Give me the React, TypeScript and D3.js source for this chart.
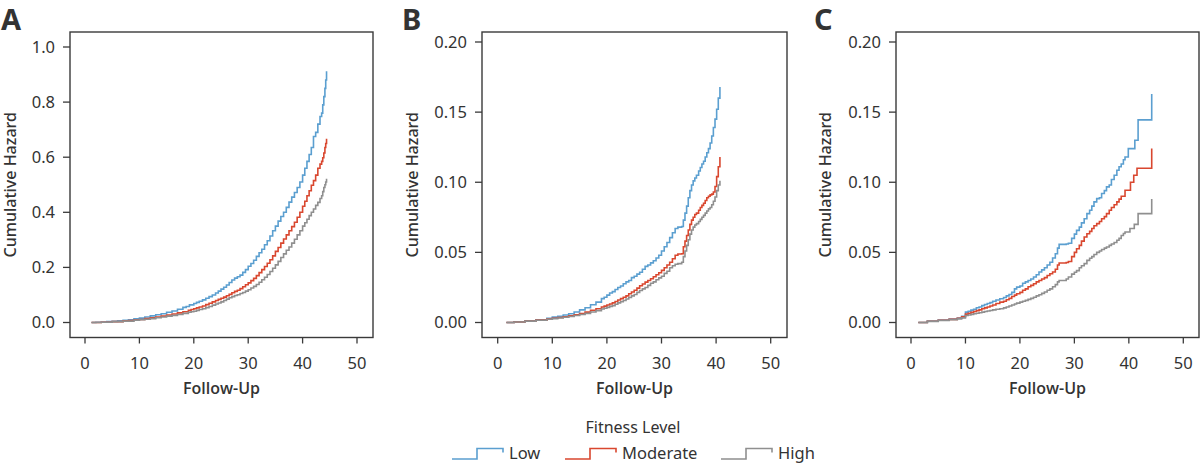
import React from "react";
import * as d3 from "d3";

type Pt = [number, number];

// ---------- Data (time, cumulative hazard) ----------
const aLow: Pt[] = [
  [1.2, 0], [2, 0.001], [3, 0.002], [4, 0.003], [5, 0.004], [6, 0.006], [7, 0.008], [8, 0.01],
  [9, 0.013], [10, 0.016], [11, 0.02], [12, 0.024], [13, 0.028], [14, 0.032], [15, 0.037],
  [16, 0.042], [17, 0.048], [18, 0.055], [18.6, 0.058], [19.2, 0.064], [20, 0.069], [20.5, 0.073],
  [21, 0.077], [21.6, 0.082], [22.2, 0.088], [22.8, 0.094], [23.4, 0.1], [24, 0.107], [24.5, 0.114],
  [25, 0.121], [25.5, 0.128], [26, 0.136], [26.5, 0.145], [27, 0.154], [27.5, 0.161], [28, 0.166],
  [28.5, 0.172], [29, 0.182], [29.5, 0.192], [30, 0.204], [30.5, 0.214], [31, 0.226], [31.5, 0.24],
  [32, 0.253], [32.5, 0.266], [33, 0.282], [33.5, 0.297], [34, 0.314], [34.5, 0.333], [35, 0.35],
  [35.5, 0.368], [36, 0.385], [36.5, 0.4], [37, 0.418], [37.5, 0.437], [38, 0.455], [38.5, 0.472],
  [39, 0.49], [39.5, 0.51], [40, 0.535], [40.4, 0.56], [40.8, 0.585], [41.2, 0.61], [41.6, 0.635],
  [42, 0.675], [42.4, 0.69], [42.8, 0.72], [43.2, 0.748], [43.5, 0.76], [43.7, 0.79], [43.9, 0.82],
  [44.1, 0.85], [44.25, 0.88], [44.4, 0.912],
];
const aModerate: Pt[] = [
  [1.2, 0], [3, 0.001], [5, 0.003], [7, 0.006], [8, 0.007], [9, 0.009], [10, 0.011], [11, 0.014],
  [12, 0.017], [13, 0.02], [14, 0.023], [15, 0.027], [16, 0.031], [17, 0.035], [18, 0.039],
  [19, 0.044], [19.5, 0.047], [20, 0.05], [20.5, 0.053], [21, 0.056], [21.6, 0.06], [22.2, 0.065],
  [22.8, 0.07], [23.4, 0.075], [24, 0.08], [24.5, 0.084], [25, 0.088], [25.5, 0.092], [26, 0.097],
  [26.5, 0.102], [27, 0.108], [27.5, 0.113], [28, 0.117], [28.5, 0.123], [29, 0.13], [29.5, 0.137],
  [30, 0.144], [30.5, 0.152], [31, 0.16], [31.5, 0.17], [32, 0.181], [32.5, 0.192], [33, 0.203],
  [33.5, 0.215], [34, 0.228], [34.5, 0.242], [35, 0.258], [35.5, 0.272], [36, 0.288], [36.5, 0.303],
  [37, 0.318], [37.5, 0.333], [38, 0.348], [38.5, 0.364], [39, 0.382], [39.5, 0.4], [40, 0.422],
  [40.4, 0.44], [40.8, 0.46], [41.2, 0.478], [41.6, 0.498], [42, 0.515], [42.4, 0.535],
  [42.8, 0.56], [43.2, 0.575], [43.5, 0.585], [43.7, 0.598], [43.9, 0.615], [44.1, 0.635],
  [44.25, 0.65], [44.4, 0.667],
];
const aHigh: Pt[] = [
  [1.2, 0], [3, 0.001], [5, 0.003], [7, 0.005], [9, 0.008], [10, 0.01], [11, 0.012], [12, 0.014],
  [13, 0.017], [14, 0.02], [15, 0.023], [16, 0.026], [17, 0.029], [18, 0.033], [19, 0.037],
  [19.5, 0.039], [20, 0.041], [20.5, 0.044], [21, 0.047], [21.6, 0.05], [22.2, 0.054],
  [22.8, 0.058], [23.4, 0.063], [24, 0.067], [24.5, 0.071], [25, 0.075], [25.5, 0.08], [26, 0.085],
  [26.5, 0.09], [27, 0.094], [27.5, 0.098], [28, 0.101], [28.5, 0.105], [29, 0.109], [29.5, 0.114],
  [30, 0.119], [30.5, 0.125], [31, 0.131], [31.5, 0.138], [32, 0.146], [32.5, 0.155], [33, 0.164],
  [33.5, 0.174], [34, 0.185], [34.5, 0.197], [35, 0.209], [35.5, 0.222], [36, 0.236],
  [36.5, 0.249], [37, 0.262], [37.5, 0.274], [38, 0.288], [38.5, 0.302], [39, 0.318],
  [39.5, 0.333], [40, 0.35], [40.4, 0.362], [40.8, 0.375], [41.2, 0.388], [41.6, 0.4], [42, 0.412],
  [42.4, 0.425], [42.8, 0.436], [43.2, 0.45], [43.5, 0.46], [43.7, 0.475], [43.9, 0.49],
  [44.1, 0.5], [44.25, 0.51], [44.4, 0.522],
];

const bLow: Pt[] = [
  [1.6, 0], [3, 0.0005], [5, 0.0012], [7, 0.002], [9, 0.003], [10, 0.0038], [11, 0.0045],
  [12, 0.0053], [13, 0.0062], [14, 0.0075], [15, 0.009], [16, 0.0105], [17, 0.0127], [18, 0.0145],
  [19, 0.017], [19.5, 0.018], [20, 0.0195], [20.5, 0.021], [21, 0.022], [21.5, 0.0235], [22, 0.025],
  [22.5, 0.026], [23, 0.0276], [23.5, 0.029], [24, 0.03], [24.5, 0.032], [25, 0.033], [25.5, 0.0345],
  [26, 0.0358], [26.5, 0.038], [27, 0.04], [27.5, 0.041], [28, 0.0425], [28.5, 0.044], [29, 0.046],
  [29.5, 0.048], [30, 0.051], [30.5, 0.054], [31, 0.057], [31.5, 0.0605], [32, 0.064],
  [32.5, 0.067], [33, 0.068], [33.7, 0.0685], [34, 0.073], [34.3, 0.078], [34.6, 0.083],
  [34.9, 0.089], [35.2, 0.094], [35.5, 0.098], [35.8, 0.101], [36.1, 0.103], [36.4, 0.105],
  [36.8, 0.108], [37.1, 0.1105], [37.4, 0.113], [37.7, 0.115], [38, 0.118], [38.3, 0.121],
  [38.6, 0.124], [38.9, 0.128], [39.2, 0.133], [39.5, 0.139], [39.8, 0.145], [40.1, 0.152],
  [40.4, 0.16], [40.7, 0.168],
];
const bModerate: Pt[] = [
  [1.6, 0], [3, 0.0004], [5, 0.001], [7, 0.0017], [9, 0.0025], [10, 0.003], [11, 0.0036],
  [12, 0.004], [13, 0.0047], [14, 0.0055], [15, 0.0063], [16, 0.0074], [17, 0.0087], [18, 0.0098],
  [19, 0.011], [19.5, 0.0117], [20, 0.0125], [20.5, 0.0132], [21, 0.014], [21.5, 0.015],
  [22, 0.016], [22.5, 0.017], [23, 0.018], [23.5, 0.019], [24, 0.0205], [24.5, 0.0218],
  [25, 0.023], [25.5, 0.0245], [26, 0.0262], [26.5, 0.0275], [27, 0.0288], [27.5, 0.03],
  [28, 0.0312], [28.5, 0.0326], [29, 0.034], [29.5, 0.0355], [30, 0.0372], [30.5, 0.039],
  [31, 0.041], [31.5, 0.043], [32, 0.0455], [32.5, 0.048], [33, 0.0488], [33.7, 0.049], [34, 0.054],
  [34.3, 0.058], [34.6, 0.062], [34.9, 0.066], [35.2, 0.07], [35.5, 0.073], [35.8, 0.075],
  [36.1, 0.077], [36.4, 0.078], [36.8, 0.08], [37.1, 0.082], [37.4, 0.0835], [37.7, 0.085],
  [38, 0.087], [38.3, 0.089], [38.6, 0.09], [38.9, 0.091], [39.2, 0.0915], [39.5, 0.093],
  [39.8, 0.097], [40.1, 0.104], [40.4, 0.111], [40.7, 0.118],
];
const bHigh: Pt[] = [
  [1.6, 0], [3, 0.0004], [5, 0.001], [7, 0.0016], [9, 0.0023], [10, 0.0027], [11, 0.0032],
  [12, 0.0037], [13, 0.0043], [14, 0.005], [15, 0.0057], [16, 0.0065], [17, 0.0075], [18, 0.0085],
  [19, 0.0096], [19.5, 0.0102], [20, 0.0108], [20.5, 0.0115], [21, 0.012], [21.5, 0.013],
  [22, 0.014], [22.5, 0.0148], [23, 0.0157], [23.5, 0.0168], [24, 0.0178], [24.5, 0.019],
  [25, 0.02], [25.5, 0.0215], [26, 0.0228], [26.5, 0.024], [27, 0.025], [27.5, 0.0265],
  [28, 0.028], [28.5, 0.029], [29, 0.0305], [29.5, 0.0318], [30, 0.033], [30.5, 0.035],
  [31, 0.0365], [31.5, 0.039], [32, 0.0405], [32.5, 0.0415], [33, 0.042], [33.7, 0.043],
  [34, 0.047], [34.3, 0.051], [34.6, 0.055], [34.9, 0.059], [35.2, 0.063], [35.5, 0.066],
  [35.8, 0.068], [36.1, 0.0695], [36.4, 0.0705], [36.8, 0.072], [37.1, 0.0735], [37.4, 0.075],
  [37.7, 0.0764], [38, 0.078], [38.3, 0.0795], [38.6, 0.081], [38.9, 0.082], [39.2, 0.084],
  [39.5, 0.0865], [39.8, 0.0895], [40.1, 0.094], [40.4, 0.098], [40.7, 0.101],
];

const cLow: Pt[] = [
  [1.35, 0], [3, 0.001], [5, 0.0018], [7, 0.0025], [8.5, 0.0032], [9.3, 0.0045], [10, 0.0074],
  [10.5, 0.008], [11, 0.0088], [11.5, 0.0095], [12, 0.0105], [12.5, 0.011], [13, 0.012],
  [13.5, 0.0128], [14, 0.0135], [14.5, 0.0142], [15, 0.0152], [15.6, 0.016], [16.3, 0.0169],
  [17, 0.0178], [17.5, 0.019], [18, 0.02], [18.5, 0.0215], [19, 0.024], [19.4, 0.0252], [20, 0.026],
  [20.5, 0.028], [21, 0.029], [21.5, 0.03], [22, 0.031], [22.5, 0.0324], [23, 0.034], [23.5, 0.036],
  [24, 0.0375], [24.5, 0.039], [25, 0.041], [25.5, 0.043], [26, 0.046], [26.5, 0.049],
  [26.9, 0.053], [27.2, 0.0557], [28.5, 0.056], [28.9, 0.0565], [29.5, 0.06], [30, 0.063],
  [30.4, 0.0657], [30.9, 0.068], [31.3, 0.071], [31.8, 0.074], [32.3, 0.0776], [32.8, 0.08],
  [33.2, 0.083], [33.6, 0.086], [34.1, 0.0883], [34.6, 0.089], [35, 0.092], [35.5, 0.094],
  [35.9, 0.0967], [36.4, 0.098], [36.8, 0.102], [37.3, 0.105], [37.8, 0.1086], [38.2, 0.111],
  [38.6, 0.113], [39, 0.116], [39.3, 0.118], [39.9, 0.124], [41.1, 0.13], [41.7, 0.1445],
  [44.2, 0.163],
];
const cModerate: Pt[] = [
  [1.35, 0], [3, 0.0009], [5, 0.0016], [7, 0.0022], [8.5, 0.003], [9.3, 0.004], [10, 0.006],
  [10.5, 0.0066], [11, 0.0072], [11.5, 0.0078], [12, 0.0085], [12.5, 0.009], [13, 0.0098],
  [13.5, 0.0104], [14, 0.011], [14.5, 0.0118], [15, 0.0125], [15.6, 0.0135], [16.3, 0.0145],
  [17, 0.0152], [17.5, 0.0162], [18, 0.0172], [18.5, 0.0185], [19, 0.0195], [19.4, 0.0205],
  [20, 0.0215], [20.5, 0.023], [21, 0.024], [21.5, 0.0255], [22, 0.0265], [22.5, 0.0276],
  [23, 0.029], [23.5, 0.03], [24, 0.031], [24.5, 0.032], [25, 0.0335], [25.5, 0.0348], [26, 0.036],
  [26.5, 0.038], [26.9, 0.041], [27.2, 0.0424], [28.5, 0.0428], [28.9, 0.0435], [29.5, 0.047],
  [30, 0.05], [30.4, 0.0526], [30.9, 0.055], [31.3, 0.058], [31.8, 0.061], [32.3, 0.0633],
  [32.8, 0.065], [33.2, 0.067], [33.6, 0.069], [34.1, 0.0705], [34.6, 0.072], [35, 0.074],
  [35.5, 0.0755], [35.9, 0.0776], [36.4, 0.08], [36.8, 0.082], [37.3, 0.084], [37.8, 0.086],
  [38.2, 0.088], [38.6, 0.09], [39.3, 0.0943], [40.3, 0.1], [40.9, 0.105], [41.5, 0.11],
  [44.2, 0.124],
];
const cHigh: Pt[] = [
  [1.35, 0], [3, 0.0008], [5, 0.0014], [7, 0.002], [8.5, 0.0026], [9.3, 0.0033], [10, 0.005],
  [10.5, 0.0054], [11, 0.0058], [11.5, 0.0062], [12, 0.0066], [12.5, 0.007], [13, 0.0074],
  [13.5, 0.0078], [14, 0.0082], [14.5, 0.0086], [15, 0.009], [15.6, 0.0094], [16.3, 0.0098],
  [17, 0.0104], [17.5, 0.011], [18, 0.0118], [18.5, 0.0125], [19, 0.0132], [19.4, 0.0138],
  [20, 0.0145], [20.5, 0.0152], [21, 0.0158], [21.5, 0.0165], [22, 0.0172], [22.5, 0.018],
  [23, 0.019], [23.5, 0.0198], [24, 0.0208], [24.5, 0.0218], [25, 0.023], [25.5, 0.024],
  [26, 0.0255], [26.5, 0.027], [26.9, 0.029], [27.2, 0.03], [28.5, 0.031], [28.9, 0.0324],
  [29.5, 0.0345], [30, 0.0358], [30.4, 0.037], [30.9, 0.039], [31.3, 0.0405], [31.8, 0.042],
  [32.3, 0.0443], [32.8, 0.0458], [33.2, 0.047], [33.6, 0.0485], [34.1, 0.05], [34.6, 0.051],
  [35, 0.052], [35.5, 0.053], [35.9, 0.0538], [36.4, 0.055], [36.8, 0.056], [37.3, 0.057],
  [37.8, 0.0586], [38.2, 0.06], [38.6, 0.062], [39, 0.0635], [39.3, 0.0645], [40.2, 0.067],
  [41, 0.07], [41.7, 0.0776], [44.2, 0.088],
];

const xTicks = [0, 10, 20, 30, 40, 50];
const yTicksA = [0, 0.2, 0.4, 0.6, 0.8, 1.0];
const yTicksBC = [0, 0.05, 0.1, 0.15, 0.2];
const levels = ["Low", "Moderate", "High"];
const colors = ["#5b9fd0", "#d9472f", "#8f8f8f"];

// ---------- Layout ----------
const FONT = "'Noto Sans', 'Open Sans', sans-serif";
const FONT_SEMI = "'Open Sans', 'Noto Sans', sans-serif";
const TEXT = "#333333";
const AXIS = "#3a3a3a";

type PanelSpec = {
  letter: string;
  letterX: number;
  boxL: number;
  boxR: number;
  x0: number;
  x50: number;
  yZeroPx: number;
  yTopPx: number;
  yTopVal: number;
  yTicks: number[];
  yFmt: string;
  yTitleX: number;
  series: Pt[][];
};

const panels: PanelSpec[] = [
  {
    letter: "A", letterX: 1, boxL: 70, boxR: 373, x0: 85, x50: 357,
    yZeroPx: 322.5, yTopPx: 47, yTopVal: 1.0, yTicks: yTicksA, yFmt: ".1f", yTitleX: 16,
    series: [aLow, aModerate, aHigh],
  },
  {
    letter: "B", letterX: 402, boxL: 482, boxR: 787, x0: 497.7, x50: 770.7,
    yZeroPx: 322.5, yTopPx: 42, yTopVal: 0.2, yTicks: yTicksBC, yFmt: ".2f", yTitleX: 418,
    series: [bLow, bModerate, bHigh],
  },
  {
    letter: "C", letterX: 814, boxL: 896, boxR: 1199, x0: 911, x50: 1183.3,
    yZeroPx: 322.5, yTopPx: 42, yTopVal: 0.2, yTicks: yTicksBC, yFmt: ".2f", yTitleX: 831,
    series: [cLow, cModerate, cHigh],
  },
];

const BOX_T = 32;
const BOX_B = 337.5;

function Panel({ p }: { p: PanelSpec }) {
  const x = d3.scaleLinear().domain([0, 50]).range([p.x0, p.x50]);
  const y = d3.scaleLinear().domain([0, p.yTopVal]).range([p.yZeroPx, p.yTopPx]);
  const line = d3
    .line<Pt>()
    .x((d) => x(d[0]))
    .y((d) => y(d[1]))
    .curve(d3.curveStepAfter);
  const fmt = d3.format(p.yFmt);
  const midY = (BOX_T + BOX_B) / 2;
  const midX = (p.boxL + p.boxR) / 2;
  return (
    <g>
      <text x={p.letterX} y={30} fontSize={29} fontWeight={700} fill={TEXT} fontFamily={FONT}>
        {p.letter}
      </text>
      {p.series.map((s, i) => (
        <path
          key={i}
          d={line(s) || ""}
          fill="none"
          stroke={colors[i]}
          strokeWidth={1.6}
          strokeLinejoin="miter"
        />
      ))}
      <rect
        x={p.boxL}
        y={BOX_T}
        width={p.boxR - p.boxL}
        height={BOX_B - BOX_T}
        fill="none"
        stroke={AXIS}
        strokeWidth={1.4}
      />
      {p.yTicks.map((t) => (
        <g key={"y" + t}>
          <line x1={p.boxL - 7} x2={p.boxL} y1={y(t)} y2={y(t)} stroke={AXIS} strokeWidth={1.3} />
          <text
            x={p.boxL - 15}
            y={y(t)}
            dy="0.36em"
            textAnchor="end"
            fontSize={16.5}
            fill={TEXT}
            fontFamily={FONT}
          >
            {fmt(t)}
          </text>
        </g>
      ))}
      {xTicks.map((t) => (
        <g key={"x" + t}>
          <line x1={x(t)} x2={x(t)} y1={BOX_B} y2={BOX_B + 6} stroke={AXIS} strokeWidth={1.3} />
          <text
            x={x(t)}
            y={368.5}
            textAnchor="middle"
            fontSize={16.5}
            fill={TEXT}
            fontFamily={FONT}
          >
            {t}
          </text>
        </g>
      ))}
      <text
        x={midX}
        y={394}
        textAnchor="middle"
        fontSize={16}
        fontWeight={600}
        fill={TEXT}
        fontFamily={FONT_SEMI}
      >
        Follow-Up
      </text>
      <text
        transform={`translate(${p.yTitleX},${midY}) rotate(-90)`}
        textAnchor="middle"
        fontSize={16}
        fontWeight={500}
        fill={TEXT}
        fontFamily={FONT}
      >
        Cumulative Hazard
      </text>
    </g>
  );
}

const legendKeyX = [452, 565, 721];

export default function App() {
  return (
    <svg
      width={1200}
      height={463}
      style={{ position: "absolute", left: 0, top: 0, background: "#fff" }}
    >
      <rect x={0} y={0} width={1200} height={463} fill="#ffffff" />
      {panels.map((p) => (
        <Panel key={p.letter} p={p} />
      ))}
      <text x={633} y={433} textAnchor="middle" fontSize={16} fill={TEXT} fontFamily={FONT}>
        Fitness Level
      </text>
      {levels.map((lv, i) => {
        const kx = legendKeyX[i];
        return (
          <g key={lv}>
            <path
              d={`M${kx},459 H${kx + 25} V448.5 H${kx + 51} V452.5`}
              fill="none"
              stroke={colors[i]}
              strokeWidth={1.6}
            />
            <text x={kx + 57} y={458.5} fontSize={16.5} fill={TEXT} fontFamily={FONT}>
              {lv}
            </text>
          </g>
        );
      })}
    </svg>
  );
}
